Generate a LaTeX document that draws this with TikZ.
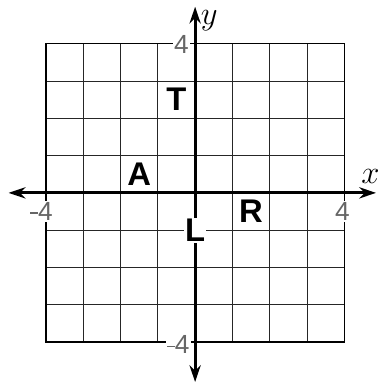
\documentclass[tikz,border=0pt]{standalone}
\usepackage{fontspec}
\setsansfont{Liberation Sans}
\usetikzlibrary{arrows.meta,positioning}

\newcommand{\negfour}{\raisebox{.45ex}{\rule{.3em}{.07em}}4}

\begin{document}
\begin{tikzpicture}[x=1cm,y=1cm]
  \tikzset{pt/.style={font=\sffamily\bfseries\fontsize{25}{25}\selectfont,inner sep=1pt},
    num/.style={font=\sffamily\fontsize{20}{20}\selectfont,text=gray!80!black,fill=white,inner sep=1pt},
    axis/.style={line width=2.3pt,{Stealth[length=4.5mm,width=3mm]}-{Stealth[length=4.5mm,width=3mm]}}}
  \useasboundingbox (-5.23,-5.15) rectangle (4.9,5.17);
  \draw[black!85,line width=.6pt] (-4,-4) grid (4,4);
  \draw[line width=1pt] (-4,-4) rectangle (4,4);
  % tick labels
  \node[num] (top) at (-0.37,3.97) {4};
  \node[num] (bot) at (-0.45,-4.07) {\negfour};
  \node[num] (lft) at (-4.12,-0.5) {\negfour};
  \node[num] (rgt) at (3.95,-0.5) {4};
  % axes
  \coordinate (xl) at (-5,0);
  \coordinate (xr) at (4.85,0);
  \coordinate (yb) at (0,-5.07);
  \coordinate (yt) at (0,4.99);
  \draw[axis] (xl) -- (xr);
  \draw[axis] (yb) -- (yt);
  \node[inner sep=0pt] (xlab) at (4.7,0.45) {\fontsize{24}{24}\selectfont$x$};
  \node[inner sep=0pt] (ylab) at (0.38,4.62) {\fontsize{24}{24}\selectfont$y$};
  % points
  \node[pt] (T) at (-0.5,2.5) {T};
  \node[pt] (A) at (-1.5,0.5) {A};
  \node[pt] (R) at (1.5,-0.5) {R};
  \node[pt,fill=white] (L) at (0,-1) {L};
\end{tikzpicture}
\end{document}
